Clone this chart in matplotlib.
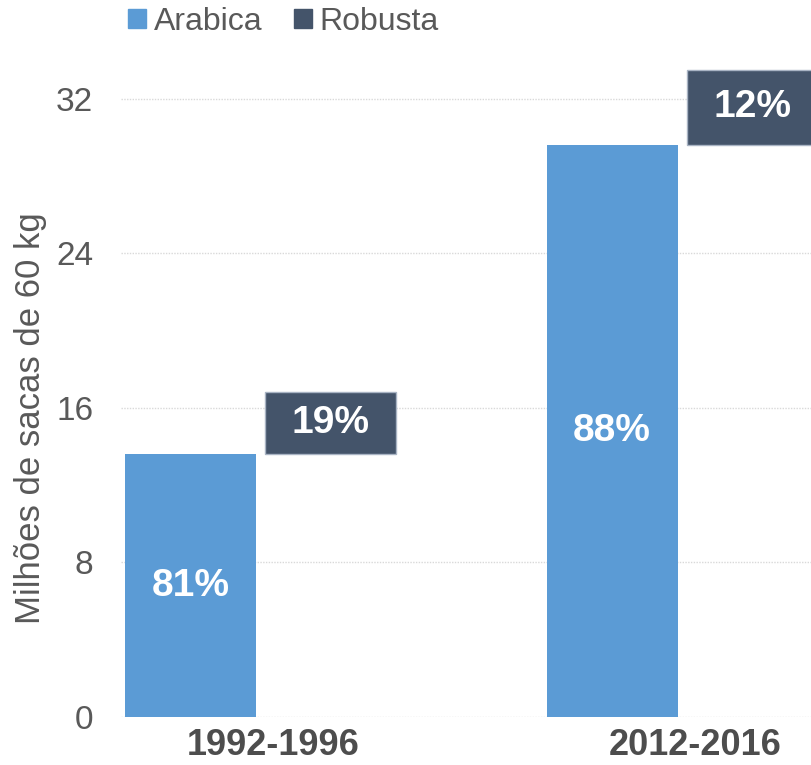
import numpy as np
import matplotlib.pyplot as plt
from matplotlib.patches import Patch

plt.rcParams['font.family'] = ['Liberation Sans', 'DejaVu Sans']

# data (milhões de sacas de 60 kg)
periods = ['1992-1996', '2012-2016']
arabica = [13.6, 29.6]
robusta = [3.2, 3.9]
arabica_pct = ['81%', '88%']
robusta_pct = ['19%', '12%']

c_arabica = '#5B9BD5'
c_robusta = '#44546A'
grey = '#595959'

fig = plt.figure(figsize=(8.12, 7.65), dpi=100)
ax = fig.add_axes([0.149, 0.0627, 0.851, 0.859])

x = np.arange(len(periods))
w = 0.311
off = 0.166

ax.bar(x - off, arabica, width=w, color=c_arabica, zorder=2)
ax.bar(x + off, robusta, width=w, bottom=arabica, color=c_robusta,
       edgecolor='#A9B4C4', linewidth=1, zorder=2)

for i in range(len(periods)):
    ax.text(x[i] - off, arabica[i] / 2, arabica_pct[i], ha='center', va='center',
            color='white', fontsize=28, fontweight='bold', zorder=3)
    ax.text(x[i] + off, arabica[i] + robusta[i] / 2, robusta_pct[i], ha='center',
            va='center', color='white', fontsize=28, fontweight='bold', zorder=3)

ax.set_ylim(0, 34)
ax.set_xlim(-0.331, 1.308)
ax.set_yticks([0, 8, 16, 24, 32])
ax.tick_params(axis='y', length=0, pad=20, labelsize=24, labelcolor=grey)
ax.set_xticks(x + 0.03)
ax.set_xticklabels(periods, fontsize=26, fontweight='bold', color='#4D4D4D')
ax.tick_params(axis='x', length=0, pad=8)

ax.grid(axis='y', color='#D9D9D9', linestyle=(0, (1, 1)), linewidth=1, zorder=0)
for s in ax.spines.values():
    s.set_visible(False)

ax.set_ylabel('Milhões de sacas de 60 kg', fontsize=25, color=grey)
ax.yaxis.set_label_coords(-0.107, 0.455)

handles = [Patch(color=c_arabica), Patch(color=c_robusta)]
fig.legend(handles, ['Arabica', 'Robusta'], loc='center left',
           bbox_to_anchor=(128 / 812, 1 - 22 / 765), ncol=2, frameon=False,
           fontsize=23, labelcolor=grey, handlelength=0.55, handleheight=0.55,
           handletextpad=0.25, columnspacing=1.0, borderpad=0, borderaxespad=0)

fig.savefig('out.png', dpi=100)
